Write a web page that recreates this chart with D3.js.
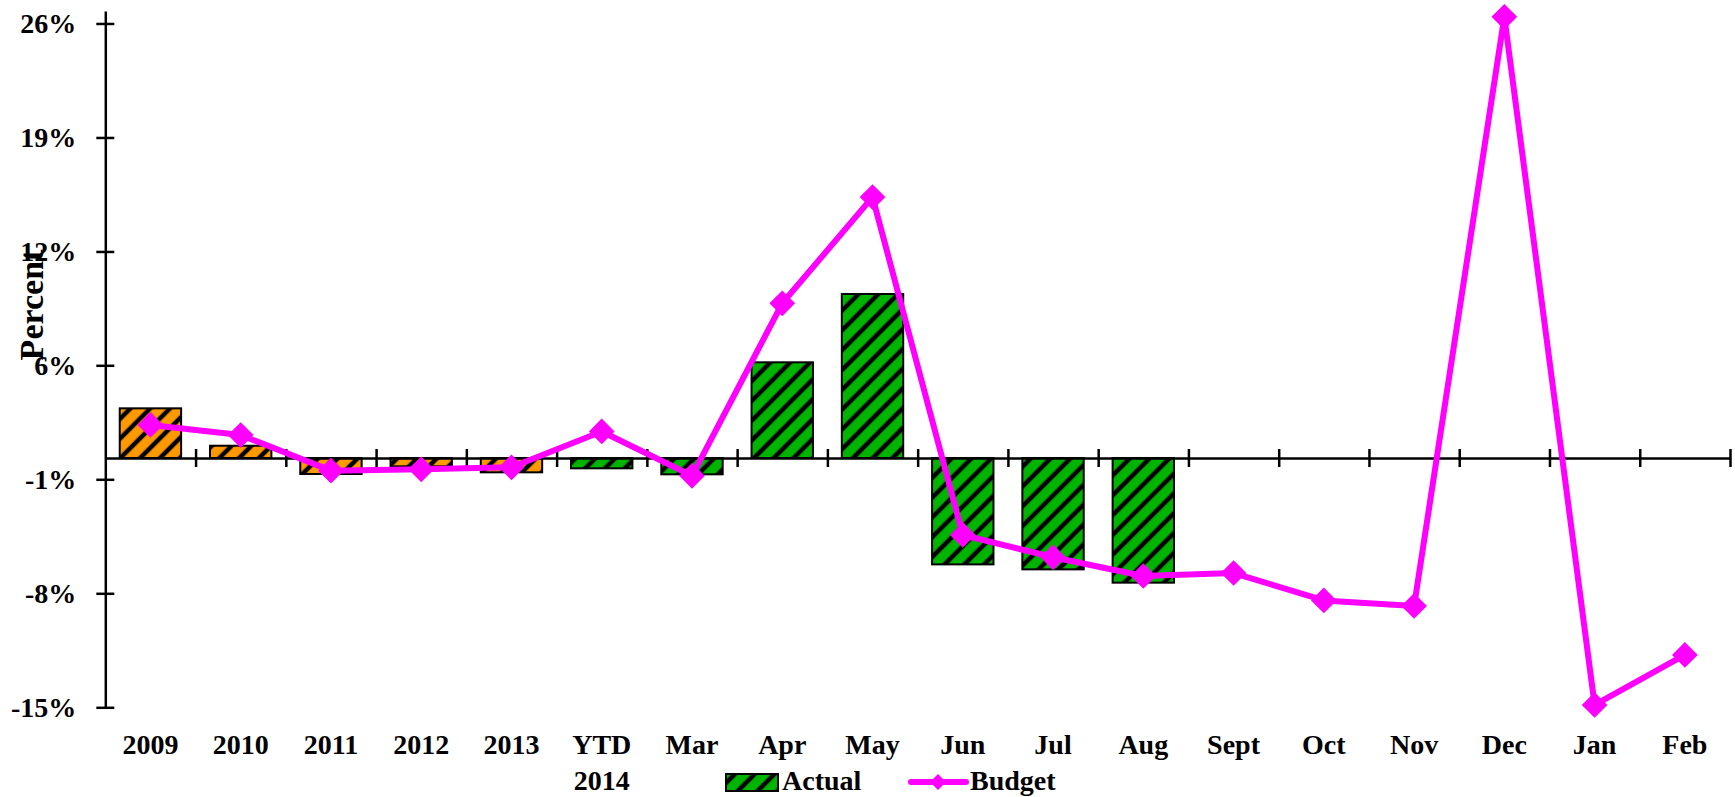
<!DOCTYPE html>
<html>
<head>
<meta charset="utf-8">
<script src="https://cdn.jsdelivr.net/npm/d3@7"></script>
<style>
  body { margin: 0; background: #fff; }
  text { font-family: "Liberation Serif", "Times New Roman", serif; font-weight: bold; fill: #000; }
</style>
</head>
<body>
<div id="chart"></div>
<script>
// data (percent)
var categories = ["2009", "2010", "2011", "2012", "2013", "YTD\n2014", "Mar", "Apr", "May", "Jun",
                  "Jul", "Aug", "Sept", "Oct", "Nov", "Dec", "Jan", "Feb"];
var actual = [2.99, 0.74, -0.96, -0.50, -0.86, -0.62, -0.98, 5.76, 9.87, -6.40, -6.70, -7.50];
var budget = [1.99, 1.38, -0.76, -0.68, -0.56, 1.60, -1.07, 9.31, 15.70, -4.63, -5.97, -7.10,
              -6.92, -8.57, -8.90, 26.55, -14.86, -11.85];
var annualCount = 5; // first bars are whole years
var yTickValues = [-15, -8.14, -1.28, 5.58, 12.43, 19.29, 26.15];
var yTickLabels = ["-15%", "-8%", "-1%", "6%", "12%", "19%", "26%"];
var seriesNames = ["Actual", "Budget"];

var svgWidth = 1735;
var svgHeight = 797;
var plot = { left: 105.3, right: 1730, top: 11, bottom: 707.3 };

var svg = d3.select("#chart").append("svg")
    .attr("width", svgWidth)
    .attr("height", svgHeight);

// hatch patterns
var defs = svg.append("defs");
function hatch(id, color) {
    var p = defs.append("pattern")
        .attr("id", id)
        .attr("patternUnits", "userSpaceOnUse")
        .attr("width", 14)
        .attr("height", 14)
        .attr("patternTransform", "rotate(45)");
    p.append("rect").attr("width", 14).attr("height", 14).attr("fill", color);
    p.append("line").attr("x1", 3).attr("y1", 0).attr("x2", 3).attr("y2", 14)
        .attr("stroke", "#000").attr("stroke-width", 4.5);
}
hatch("hatchOrange", "#FF9900");
hatch("hatchGreen", "#00B400");

// scales
var x = d3.scaleBand()
    .domain(categories)
    .range([plot.left, plot.right])
    .paddingInner(0.32)
    .paddingOuter(0.16);

var xEdge = d3.scaleLinear()
    .domain([0, categories.length])
    .range([plot.left, plot.right]);

var y = d3.scaleLinear()
    .domain([-15, 26.9])
    .range([plot.bottom, plot.top]);

// bars
svg.append("g").selectAll("rect")
    .data(actual)
    .enter()
    .append("rect")
    .attr("x", (d, i) => x(categories[i]))
    .attr("width", x.bandwidth())
    .attr("y", d => y(Math.max(0, d)))
    .attr("height", d => Math.abs(y(d) - y(0)))
    .attr("fill", (d, i) => i < annualCount ? "url(#hatchOrange)" : "url(#hatchGreen)")
    .attr("stroke", "#000")
    .attr("stroke-width", 2);

// y axis
var yAxis = d3.axisLeft(y)
    .tickValues(yTickValues)
    .tickFormat((d, i) => yTickLabels[i])
    .tickSize(9)
    .tickSizeOuter(0)
    .tickPadding(20);

var yG = svg.append("g")
    .attr("transform", `translate(${plot.left},0)`)
    .call(yAxis);
yG.select(".domain").attr("stroke-width", 2.5);
yG.selectAll(".tick line").attr("x1", 9).attr("stroke-width", 2.5);
yG.selectAll(".tick text")
    .attr("font-size", "28px")
    .attr("font-family", null)
    .attr("fill", null);

// x axis at zero with ticks between categories
var xAxis = d3.axisBottom(xEdge)
    .tickValues(d3.range(1, categories.length + 1))
    .tickFormat("")
    .tickSize(9)
    .tickSizeOuter(0);

var xG = svg.append("g")
    .attr("transform", `translate(0,${y(0)})`)
    .call(xAxis);
xG.select(".domain").attr("stroke-width", 2.5);
xG.selectAll(".tick line").attr("y1", -9).attr("stroke-width", 2.5);

// category labels
var labels = svg.append("g").selectAll("text")
    .data(categories)
    .enter()
    .append("text")
    .attr("text-anchor", "middle")
    .attr("font-size", "28px")
    .attr("y", 754);
labels.each(function (d) {
    var t = d3.select(this);
    var cx = x(d) + x.bandwidth() / 2;
    d.split("\n").forEach(function (line, k) {
        t.append("tspan").attr("x", cx).attr("dy", k === 0 ? 0 : 36).text(line);
    });
});

// budget line
var line = d3.line()
    .x((d, i) => x(categories[i]) + x.bandwidth() / 2)
    .y(d => y(d));

svg.append("path")
    .datum(budget)
    .attr("d", line)
    .attr("fill", "none")
    .attr("stroke", "#FF00FF")
    .attr("stroke-width", 6)
    .attr("stroke-linejoin", "round");

var marker = d3.symbol().type(d3.symbolSquare).size(330);
svg.append("g").selectAll("path")
    .data(budget)
    .enter()
    .append("path")
    .attr("d", marker)
    .attr("transform", (d, i) => `translate(${x(categories[i]) + x.bandwidth() / 2},${y(d)}) rotate(45)`)
    .attr("fill", "#FF00FF");

// y axis title
svg.append("text")
    .attr("transform", "translate(43,305) rotate(-90)")
    .attr("text-anchor", "middle")
    .attr("font-size", "34px")
    .text("Percent");

// legend
var legend = svg.append("g");
legend.append("rect")
    .attr("x", 726).attr("y", 774)
    .attr("width", 52).attr("height", 17)
    .attr("fill", "url(#hatchGreen)")
    .attr("stroke", "#000")
    .attr("stroke-width", 2);
legend.append("text")
    .attr("x", 782).attr("y", 790)
    .attr("font-size", "28px")
    .text(seriesNames[0]);
legend.append("line")
    .attr("x1", 911).attr("x2", 966)
    .attr("y1", 782).attr("y2", 782)
    .attr("stroke", "#FF00FF")
    .attr("stroke-width", 6)
    .attr("stroke-linecap", "round");
legend.append("path")
    .attr("d", d3.symbol().type(d3.symbolSquare).size(130))
    .attr("transform", "translate(938,782) rotate(45)")
    .attr("fill", "#FF00FF");
legend.append("text")
    .attr("x", 970).attr("y", 790)
    .attr("font-size", "28px")
    .text(seriesNames[1]);
</script>
</body>
</html>
